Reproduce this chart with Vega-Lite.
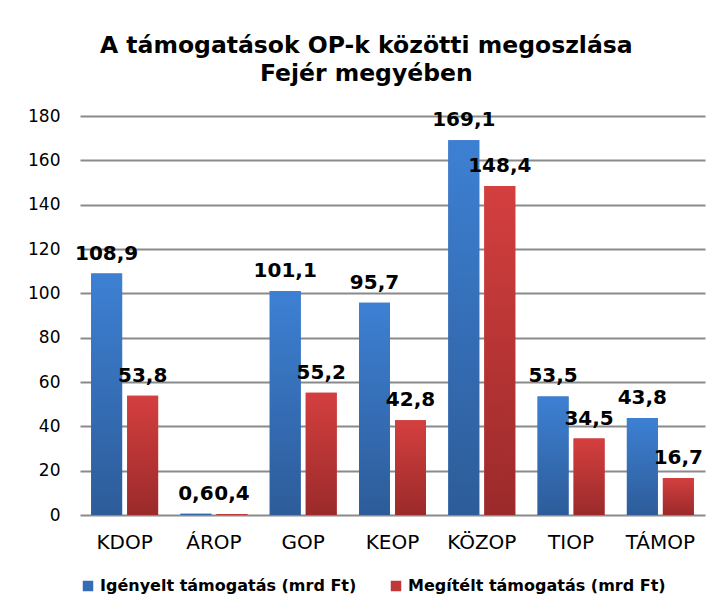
{
  "$schema": "https://vega.github.io/schema/vega-lite/v6.json",
  "width": 625,
  "height": 399,
  "padding": {"left": 27, "top": 33, "right": 5, "bottom": 5},
  "background": "white",
  "title": {
    "text": ["A támogatások OP-k közötti megoszlása", "Fejér megyében"],
    "font": "DejaVu Sans",
    "fontSize": 23.5,
    "fontWeight": "bold",
    "lineHeight": 28,
    "anchor": "middle",
    "frame": "bounds",
    "offset": 22,
    "color": "black"
  },
  "data": {
    "values": [
      {"op": "KDOP", "series": "Igényelt támogatás (mrd Ft)", "value": 108.9},
      {"op": "KDOP", "series": "Megítélt támogatás (mrd Ft)", "value": 53.8},
      {"op": "ÁROP", "series": "Igényelt támogatás (mrd Ft)", "value": 0.6},
      {"op": "ÁROP", "series": "Megítélt támogatás (mrd Ft)", "value": 0.4},
      {"op": "GOP", "series": "Igényelt támogatás (mrd Ft)", "value": 101.1},
      {"op": "GOP", "series": "Megítélt támogatás (mrd Ft)", "value": 55.2},
      {"op": "KEOP", "series": "Igényelt támogatás (mrd Ft)", "value": 95.7},
      {"op": "KEOP", "series": "Megítélt támogatás (mrd Ft)", "value": 42.8},
      {"op": "KÖZOP", "series": "Igényelt támogatás (mrd Ft)", "value": 169.1},
      {"op": "KÖZOP", "series": "Megítélt támogatás (mrd Ft)", "value": 148.4},
      {"op": "TIOP", "series": "Igényelt támogatás (mrd Ft)", "value": 53.5},
      {"op": "TIOP", "series": "Megítélt támogatás (mrd Ft)", "value": 34.5},
      {"op": "TÁMOP", "series": "Igényelt támogatás (mrd Ft)", "value": 43.8},
      {"op": "TÁMOP", "series": "Megítélt támogatás (mrd Ft)", "value": 16.7}
    ]
  },
  "encoding": {
    "x": {
      "field": "op",
      "type": "nominal",
      "sort": null,
      "scale": {"paddingInner": 0.25, "paddingOuter": 0.125},
      "axis": {
        "title": null,
        "labelAngle": 0,
        "ticks": false,
        "domain": false,
        "labelFont": "DejaVu Sans",
        "labelFontSize": 20,
        "labelColor": "black",
        "labelPadding": 17
      }
    },
    "xOffset": {
      "field": "series",
      "type": "nominal",
      "sort": ["Igényelt támogatás (mrd Ft)", "Megítélt támogatás (mrd Ft)"],
      "scale": {"paddingInner": 0.14, "paddingOuter": 0}
    },
    "y": {
      "field": "value",
      "type": "quantitative",
      "scale": {"domain": [0, 180], "nice": false},
      "axis": {
        "title": null,
        "values": [0, 20, 40, 60, 80, 100, 120, 140, 160, 180],
        "ticks": false,
        "domain": false,
        "grid": true,
        "gridColor": "#8a8a8a",
        "gridWidth": 2,
        "labelFont": "DejaVu Sans",
        "labelFontSize": 17,
        "labelColor": "black",
        "labelPadding": 20
      }
    }
  },
  "layer": [
    {
      "mark": {"type": "bar"},
      "encoding": {
        "color": {
          "field": "series",
          "type": "nominal",
          "sort": ["Igényelt támogatás (mrd Ft)", "Megítélt támogatás (mrd Ft)"],
          "scale": {"range": ["#356cb8", "#c23838"]},
          "legend": {
            "title": null,
            "orient": "bottom",
            "direction": "horizontal",
            "symbolType": "square",
            "symbolSize": 110,
            "symbolStrokeWidth": 0,
            "labelFont": "DejaVu Sans",
            "labelFontSize": 16,
            "labelFontWeight": "bold",
            "labelColor": "black",
            "labelLimit": 0,
            "columnPadding": 31,
            "offset": 26
          }
        }
      }
    },
    {
      "transform": [{"filter": "datum.series === 'Igényelt támogatás (mrd Ft)'"}],
      "mark": {
        "type": "bar",
        "color": {
          "gradient": "linear",
          "x1": 0, "y1": 0, "x2": 0, "y2": 1,
          "stops": [
            {"offset": 0, "color": "#3d80d3"},
            {"offset": 1, "color": "#2d5c99"}
          ]
        }
      }
    },
    {
      "transform": [{"filter": "datum.series === 'Megítélt támogatás (mrd Ft)'"}],
      "mark": {
        "type": "bar",
        "color": {
          "gradient": "linear",
          "x1": 0, "y1": 0, "x2": 0, "y2": 1,
          "stops": [
            {"offset": 0, "color": "#d43f3f"},
            {"offset": 1, "color": "#9b2a2a"}
          ]
        }
      }
    },
    {
      "mark": {
        "type": "text",
        "font": "DejaVu Sans",
        "fontSize": 20,
        "fontWeight": "bold",
        "color": "black",
        "baseline": "alphabetic",
        "dy": -14
      },
      "encoding": {
        "text": {"field": "value", "type": "quantitative", "format": ".1f"}
      }
    }
  ],
  "config": {
    "locale": {
      "number": {"decimal": ",", "thousands": " ", "grouping": [3], "currency": ["", ""]}
    },
    "view": {"stroke": null}
  }
}
